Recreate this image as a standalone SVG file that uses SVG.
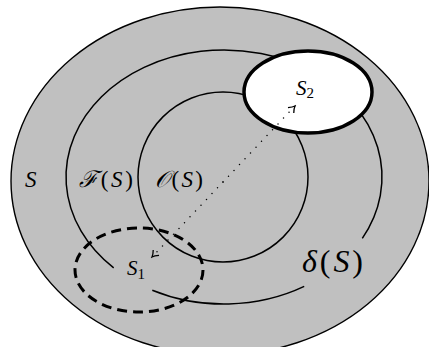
<svg xmlns="http://www.w3.org/2000/svg" width="429" height="347" viewBox="0 0 429 347">
<defs>
<style>
.ln{fill:none;stroke:#000;stroke-width:1.5}
.t{font-family:"Liberation Serif","DejaVu Serif",serif;fill:#000}
.i{font-style:italic}
</style>
<marker id="ah" viewBox="-8 -5 10 10" markerWidth="10" markerHeight="10" markerUnits="userSpaceOnUse" orient="auto">
<path d="M-6,-4 Q-2.5,-0.8 0,0 Q-2.5,0.8 -6,4" fill="none" stroke="#000" stroke-width="1.3"/>
</marker>
</defs>
<rect width="429" height="347" fill="#fff"/>
<g id="S">
<ellipse cx="220" cy="181" rx="209" ry="174" fill="#c0c0c0" stroke="#000" stroke-width="1.4"/>
<text class="t i" x="25" y="187" font-size="23">S</text>
</g>
<g id="FS">
<path class="ln" d="M362.3,238.4 A158,127 0 1 0 113.7,267.9"/>
<path class="ln" d="M152.3,290.2 A158,127 0 0 0 304.2,286.4"/>
<text class="t" x="79" y="187" font-size="23" textLength="54" lengthAdjust="spacing"><tspan class="i">ℱ</tspan>(<tspan class="i">S</tspan>)</text>
</g>
<g id="OS">
<circle class="ln" cx="223" cy="177" r="85"/>
<text class="t" x="155" y="187" font-size="23" textLength="48" lengthAdjust="spacing"><tspan class="i">𝒪</tspan>(<tspan class="i">S</tspan>)</text>
</g>
<g id="S2">
<ellipse cx="308" cy="92" rx="64" ry="41" fill="#fff" stroke="#000" stroke-width="3.5"/>
<text class="t" x="296" y="95" font-size="21"><tspan class="i">S</tspan><tspan font-size="15" dy="3">2</tspan></text>
</g>
<g id="S1">
<ellipse cx="139" cy="270" rx="64" ry="42" fill="none" stroke="#000" stroke-width="3" stroke-dasharray="10 6"/>
<text class="t" x="127" y="275" font-size="21"><tspan class="i">S</tspan><tspan font-size="15" dy="4">1</tspan></text>
</g>
<g id="dS">
<text class="t" x="302" y="272" font-size="32" textLength="61" lengthAdjust="spacing"><tspan class="i">δ</tspan>(<tspan class="i">S</tspan>)</text>
</g>
<g id="connectors">
<line x1="223" y1="182" x2="295" y2="106" stroke="#000" stroke-width="1.5" stroke-linecap="round" stroke-dasharray="0 8" marker-end="url(#ah)"/>
<line x1="223" y1="182" x2="152" y2="257" stroke="#000" stroke-width="1.5" stroke-linecap="round" stroke-dasharray="0 8" marker-end="url(#ah)"/>
</g>
</svg>
